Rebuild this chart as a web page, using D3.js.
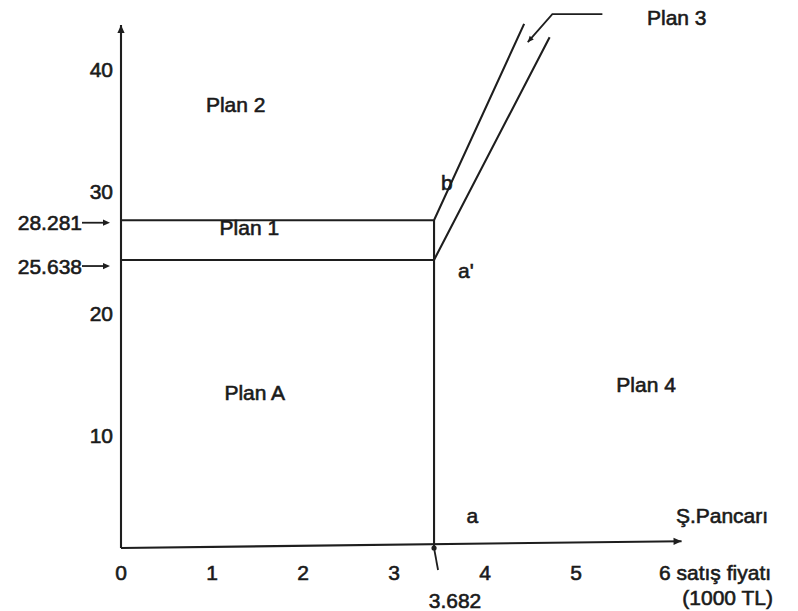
<!DOCTYPE html>
<html>
<head>
<meta charset="utf-8">
<script src="https://cdn.jsdelivr.net/npm/d3@7"></script>
<style>
  html, body { margin: 0; padding: 0; background: #fff; }
  svg text { font-family: "Liberation Sans", Arial, sans-serif; fill: #1a1a1a; stroke: #1a1a1a; stroke-width: 0.6px; }
</style>
</head>
<body>
<svg id="chart" width="798" height="611"></svg>
<script>
// ---- data ----
const xTickValues = [0, 1, 2, 3, 4, 5];
const yTickValues = [10, 20, 30, 40];
// plotted price of the vertical boundary and its printed label
const boundaryX = 3.44;
const boundaryXLabel = "3.682";
// plotted heights of the two horizontal boundaries and their printed labels
const boundaryY = [27.6, 24.35];
const boundaryYLabels = ["28.281", "25.638"];
const boundaryArrowY = [27.4, 23.85];
// upper ends of the two sloped boundaries (b and a')
const slopeTopX = [4.43, 4.71];
const slopeTopY = [43.7, 42.6];
// region names
const regionNames = ["Plan 2", "Plan 1", "Plan A", "Plan 4"];
const regionX = [1.26, 1.41, 1.47, 5.77];
const regionY = [37.05, 27.0, 13.45, 14.1];
// point letters
const pointNames = ["b", "a'", "a"];
const pointX = [3.58, 3.79, 3.86];
const pointY = [30.7, 23.5, 2.9];
// Plan 3 leader
const leaderX = [5.29, 4.74, 4.47];
const leaderY = [44.5, 44.5, 42.2];

// ---- scales ----
const svg = d3.select("#chart");
const x = d3.scaleLinear().domain([0, 6]).range([121, 667]);
const y = d3.scaleLinear().domain([0, 10, 40]).range([548, 435, 69]);

const stroke = "#1e1e1e";
const FS = 21;
const g = svg.append("g");

function line(pts, w) {
  g.append("path")
    .attr("d", d3.line().x(d => x(d[0])).y(d => y(d[1]))(pts))
    .attr("fill", "none").attr("stroke", stroke)
    .attr("stroke-width", w || 2.1).attr("stroke-linejoin", "miter");
}
function arrowHead(px, py, angleDeg, size) {
  const s = size || 7;
  const a = angleDeg * Math.PI / 180;
  const tip = [px, py];
  const back1 = [px - s * Math.cos(a) + s * 0.45 * Math.sin(a), py - s * Math.sin(a) - s * 0.45 * Math.cos(a)];
  const back2 = [px - s * Math.cos(a) - s * 0.45 * Math.sin(a), py - s * Math.sin(a) + s * 0.45 * Math.cos(a)];
  g.append("path").attr("d", "M" + tip + "L" + back1 + "L" + back2 + "Z").attr("fill", stroke);
}
function label(px, py, txt, anchor) {
  return g.append("text").attr("x", px).attr("y", py)
    .attr("text-anchor", anchor || "middle").attr("dominant-baseline", "central")
    .attr("font-size", FS).text(txt);
}

// axes
const yAxisTop = 43.6, xAxisEnd = 6.16, xAxisEndY = 0.6;
line([[0, 0], [0, yAxisTop]], 2.1);
arrowHead(x(0), y(yAxisTop), -90, 8);
line([[0, 0], [xAxisEnd, xAxisEndY]], 2.1);
{
  const ang = Math.atan2(y(xAxisEndY) - y(0), x(xAxisEnd) - x(0)) * 180 / Math.PI;
  arrowHead(x(xAxisEnd), y(xAxisEndY), ang, 8);
}

// tick labels
xTickValues.forEach(d => label(x(d), y(0) + 24, d));
label(x(6) - 8, y(0) + 24, "6 satış fiyatı", "start");
label(773, y(0) + 49, "(1000 TL)", "end");
yTickValues.forEach(d => label(x(0) - 8, y(d), d, "end"));

// boundaries
line([[0, boundaryY[0]], [boundaryX, boundaryY[0]], [slopeTopX[0], slopeTopY[0]]]);
line([[0, boundaryY[1]], [boundaryX, boundaryY[1]], [slopeTopX[1], slopeTopY[1]]]);
line([[boundaryX, boundaryY[0]], [boundaryX, 0]]);
// tick of 3.682 below the axis
g.append("path")
  .attr("d", d3.line()([[x(boundaryX), y(0)], [x(boundaryX) + 4, y(0) + 22]]))
  .attr("stroke", stroke).attr("stroke-width", 1.8).attr("fill", "none");
g.append("circle").attr("cx", x(boundaryX)).attr("cy", y(0)).attr("r", 2.6).attr("fill", stroke);
label(x(boundaryX) + 21, y(0) + 52, boundaryXLabel);

// left labels with arrows
boundaryYLabels.forEach((lab, i) => {
  const yy = y(boundaryArrowY[i]);
  label(82, yy, lab, "end");
  g.append("line").attr("x1", 82).attr("x2", 104).attr("y1", yy).attr("y2", yy)
    .attr("stroke", stroke).attr("stroke-width", 1.8);
  arrowHead(110, yy, 0, 7);
});

// region labels
regionNames.forEach((n, i) => label(x(regionX[i]), y(regionY[i]), n));
// point labels
pointNames.forEach((n, i) => label(x(pointX[i]), y(pointY[i]), n));
label(722, y(pointY[2]), "Ş.Pancarı");

// Plan 3 leader
line(leaderX.map((v, i) => [v, leaderY[i]]), 1.8);
{
  const p1 = [x(leaderX[1]), y(leaderY[1])], p2 = [x(leaderX[2]), y(leaderY[2])];
  const ang = Math.atan2(p2[1] - p1[1], p2[0] - p1[0]) * 180 / Math.PI;
  arrowHead(p2[0], p2[1], ang, 6);
}
label(647, 17, "Plan 3", "start");
</script>
</body>
</html>
